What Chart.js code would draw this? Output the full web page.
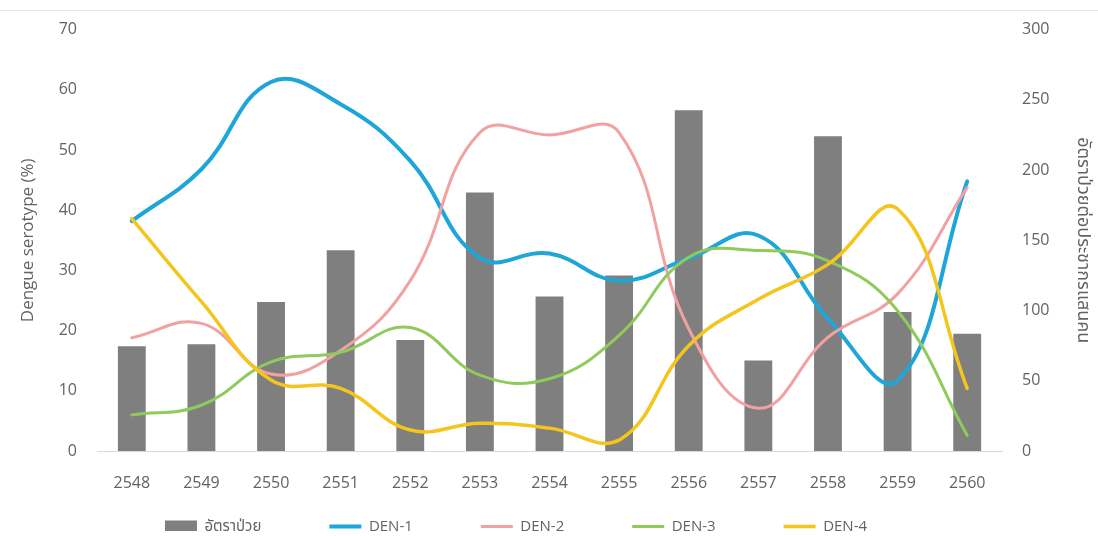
<!DOCTYPE html>
<html>
<head>
<meta charset="utf-8">
<script src="https://cdn.jsdelivr.net/npm/chart.js@4.4.1/dist/chart.umd.min.js"></script>
<style>
  html, body { margin: 0; padding: 0; background: #fff; }
  #wrap { position: relative; width: 1098px; height: 536px; }
  #wrap::before { content: ""; position: absolute; left: 0; right: 0; top: 10px; border-top: 1px solid #e6e6e6; }
  canvas { display: block; }
</style>
</head>
<body>
<div id="wrap"><canvas id="chart" width="1098" height="536"></canvas></div>
<script>
// Buddhist-era years
const years = ['2548', '2549', '2550', '2551', '2552', '2553', '2554', '2555', '2556', '2557', '2558', '2559', '2560'];

// Incidence per 100,000 population (right axis)
const incidence = [74.5, 76, 106, 143, 79, 184, 110, 125, 242.5, 64.5, 224, 99, 83.5];

// Share of each dengue serotype, % (left axis)
const den1 = [38.2, 46.8, 61.3, 57.6, 48.2, 32.1, 32.8, 28.3, 32.0, 35.8, 22.0, 11.7, 44.8];
const den2 = [18.8, 21.2, 12.8, 16.7, 28.3, 52.9, 52.5, 52.9, 20.3, 7.1, 18.9, 26.1, 43.8];
const den3 = [6.0, 7.6, 14.8, 16.4, 20.5, 12.6, 12.0, 19.2, 32.2, 33.3, 31.6, 23.3, 2.6];
const den4 = [38.6, 24.8, 11.8, 10.4, 3.5, 4.6, 3.8, 1.8, 17.5, 25.2, 31.0, 40.2, 10.4];

// Axis ticks
const leftTicks = { min: 0, max: 70, step: 10 };
const rightTicks = { min: 0, max: 300, step: 50 };

const FONT = "'Open Sans', 'Noto Sans Thai', Tahoma, 'DejaVu Sans', sans-serif";
const TEXT = '#636363';

// The legend uses a wide label padding for horizontal spacing; keep its box
// short and nudge where its row is painted.
const legendPlacement = {
  id: 'legendPlacement',
  afterInit(chart, args, opts) {
    const lg = chart.legend;
    if (!lg || lg.$placed) return;
    lg.$placed = true;
    const fit = lg.fit;
    const draw = lg._draw;
    lg.fit = function () {
      fit.call(this);
      this.height = opts.height;
    };
    lg._draw = function () {
      const pad = this.options.labels.padding;
      const { top, left, right } = this;
      this.top = top - pad + opts.innerTop;
      this.left = left + opts.shiftX;
      this.right = right + opts.shiftX;
      draw.call(this);
      this.top = top;
      this.left = left;
      this.right = right;
    };
  }
};

function lineSet(label, data, color, width, order) {
  return {
    type: 'line', label, data, yAxisID: 'y',
    borderColor: color, backgroundColor: color, borderWidth: width,
    pointRadius: 0, pointHoverRadius: 0, tension: 0.42, fill: false,
    borderCapStyle: 'round', order
  };
}

new Chart(document.getElementById('chart'), {
  plugins: [legendPlacement],
  data: {
    labels: years,
    datasets: [
      {
        type: 'bar', label: 'อัตราป่วย', data: incidence, yAxisID: 'y1',
        backgroundColor: '#7f7f7f', barPercentage: 0.4, categoryPercentage: 1.0, order: 5
      },
      lineSet('DEN-1', den1, '#1fa6d9', 4, 4),
      lineSet('DEN-2', den2, '#f2a1a3', 3, 3),
      lineSet('DEN-3', den3, '#8fcb5b', 3, 2),
      lineSet('DEN-4', den4, '#f4c51c', 3.5, 1)
    ]
  },
  options: {
    responsive: false,
    animation: false,
    layout: { padding: { left: 16, right: 2, top: 20, bottom: 5 } },
    font: { family: FONT },
    plugins: {
      tooltip: { enabled: false },
      legendPlacement: { height: 36, innerTop: 24, shiftX: -40 },
      legend: {
        position: 'bottom',
        labels: {
          color: TEXT,
          font: { family: FONT, size: 15 },
          usePointStyle: true,
          pointStyleWidth: 32,
          boxHeight: 12,
          padding: 68,
          generateLabels(chart) {
            const items = Chart.defaults.plugins.legend.labels.generateLabels(chart);
            items.forEach(it => {
              const ds = chart.data.datasets[it.datasetIndex];
              if (ds.type === 'bar') {
                it.pointStyle = 'rect';
                it.fillStyle = ds.backgroundColor;
                it.strokeStyle = ds.backgroundColor;
                it.lineWidth = 0;
              } else {
                it.pointStyle = 'line';
                it.strokeStyle = ds.borderColor;
                it.lineWidth = ds.borderWidth;
              }
            });
            return items.sort((a, b) => a.datasetIndex - b.datasetIndex);
          }
        }
      }
    },
    scales: {
      x: {
        grid: { display: false, drawTicks: false },
        border: { display: true, color: '#d9d9d9', width: 1 },
        ticks: { color: TEXT, font: { family: FONT, size: 16 }, padding: 23 },
        afterFit(scale) { scale.height = 44; }
      },
      y: {
        position: 'left',
        min: leftTicks.min, max: leftTicks.max,
        grid: { display: false, drawTicks: false },
        border: { display: false },
        ticks: { stepSize: leftTicks.step, color: TEXT, font: { family: FONT, size: 16 }, padding: 20 },
        title: { display: true, text: 'Dengue serotype (%)', color: TEXT, font: { family: FONT, size: 17 }, padding: 2 },
        afterFit(scale) { scale.width = 81; }
      },
      y1: {
        position: 'right',
        min: rightTicks.min, max: rightTicks.max,
        grid: { display: false, drawTicks: false },
        border: { display: false },
        ticks: { stepSize: rightTicks.step, color: TEXT, font: { family: FONT, size: 16 }, padding: 20 },
        title: { display: true, text: 'อัตราป่วยต่อประชากรแสนคน', color: TEXT, font: { family: FONT, size: 18 }, padding: 2 },
        afterFit(scale) { scale.width = 94; }
      }
    }
  }
});
</script>
</body>
</html>
